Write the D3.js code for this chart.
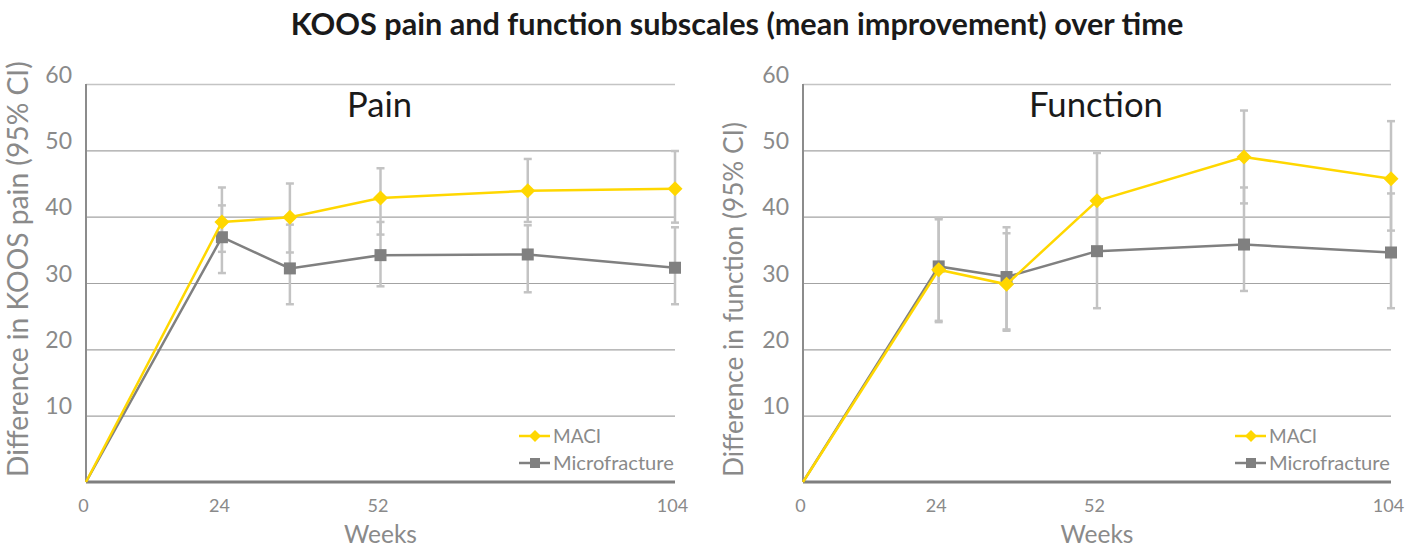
<!DOCTYPE html>
<html>
<head>
<meta charset="utf-8">
<script src="https://cdn.jsdelivr.net/npm/d3@7"></script>
<style>
  body { margin: 0; background: #fff; }
  svg text { font-family: Lato, "Noto Sans", sans-serif; }
</style>
</head>
<body>
<div id="chart"></div>
<script>
// weeks measured and tick labels
const weeks = [0, 24, 36, 52, 78, 104];
const xTicks = [0, 24, 52, 104];
const yTicks = [10, 20, 30, 40, 50, 60];
const seriesNames = ["MACI", "Microfracture"];

// Pain subscale: mean and 95% CI
const painMaci   = [0, 39.2, 39.9, 42.8, 43.9, 44.2];
const painMaciLo = [null, 34.7, 34.6, 37.3, 39.2, 39.1];
const painMaciHi = [null, 44.4, 45.0, 47.3, 48.7, 49.9];
const painMf     = [0, 36.9, 32.2, 34.2, 34.3, 32.3];
const painMfLo   = [null, 31.5, 26.8, 29.5, 28.6, 26.8];
const painMfHi   = [null, 41.7, 38.8, 39.2, 38.7, 38.4];

// Function subscale: mean and 95% CI
const funcMaci   = [0, 32.0, 29.8, 42.4, 49.0, 45.7];
const funcMaciLo = [null, 24.3, 22.8, 34.9, 42.0, 37.9];
const funcMaciHi = [null, 39.6, 37.5, 49.6, 56.0, 54.4];
const funcMf     = [0, 32.5, 30.9, 34.8, 35.8, 34.6];
const funcMfLo   = [null, 24.1, 23.0, 26.2, 28.8, 26.2];
const funcMfHi   = [null, 39.8, 38.4, 42.6, 44.4, 43.5];

const W = 1415, H = 547;
const yellow = "#FFD700", grey = "#808080", light = "#c3c3c3", tickGrey = "#8a8a8a";

const svg = d3.select("#chart").append("svg")
  .attr("width", W).attr("height", H);

// shrink or grow a text's font so it spans the given width
function fit(sel, width) {
  const fs = parseFloat(sel.attr("font-size"));
  const len = sel.node().getComputedTextLength();
  sel.attr("font-size", (fs * width / len).toFixed(2) + "px");
}

svg.append("text")
  .attr("x", 737).attr("y", 35)
  .attr("text-anchor", "middle")
  .attr("font-size", "26px").attr("font-weight", "bold")
  .attr("fill", "#1a1a1a")
  .text("KOOS pain and function subscales (mean improvement) over time")
  .call(fit, 893);

const panels = [
  { x0: 86, x1: 675, name: "Pain", nameW: 65, yTitle: "Difference in KOOS pain (95% CI)", yTitleW: 416, yTitleX: 28,
    maci: painMaci, maciLo: painMaciLo, maciHi: painMaciHi, mf: painMf, mfLo: painMfLo, mfHi: painMfHi },
  { x0: 803, x1: 1391, name: "Function", nameW: 134, yTitle: "Difference in function (95% CI)", yTitleW: 355, yTitleX: 743,
    maci: funcMaci, maciLo: funcMaciLo, maciHi: funcMaciHi, mf: funcMf, mfLo: funcMfLo, mfHi: funcMfHi }
];

const y = d3.scaleLinear().domain([0, 60]).range([482, 84]);

panels.forEach(p => {
  const x = d3.scaleLinear().domain([0, 104]).range([p.x0, p.x1]);
  const g = svg.append("g");

  // y axis with gridlines
  const ya = g.append("g")
    .attr("transform", `translate(${p.x0},0)`)
    .call(d3.axisLeft(y).tickValues(yTicks).tickSize(-(p.x1 - p.x0)).tickPadding(14));
  ya.select(".domain").remove();
  ya.selectAll(".tick line")
    .attr("stroke", d => d === 60 ? "#c4c4c4" : "#a3a3a3")
    .attr("stroke-width", d => d === 60 ? 1.5 : 1.2);
  ya.selectAll(".tick text")
    .attr("dy", "-2px")
    .attr("fill", tickGrey)
    .attr("font-size", "23px")
    .attr("font-family", "Lato, 'Noto Sans', sans-serif");

  // x axis labels
  const xa = g.append("g")
    .attr("transform", "translate(0,482)")
    .call(d3.axisBottom(x).tickValues(xTicks).tickSize(0));
  xa.select(".domain").remove();
  xa.selectAll(".tick text")
    .attr("y", 30).attr("dy", 0)
    .attr("dx", "-3px")
    .attr("fill", tickGrey)
    .attr("font-size", "18px")
    .attr("font-family", "Lato, 'Noto Sans', sans-serif");

  // axis lines
  g.append("line")
    .attr("x1", p.x0).attr("x2", p.x0).attr("y1", y(60)).attr("y2", y(0))
    .attr("stroke", "#8c8c8c").attr("stroke-width", 2);
  g.append("line")
    .attr("x1", p.x0).attr("x2", p.x1).attr("y1", y(0)).attr("y2", y(0))
    .attr("stroke", "#7f7f7f").attr("stroke-width", 3);

  g.append("text")
    .attr("x", (p.x0 + p.x1) / 2).attr("y", 543)
    .attr("text-anchor", "middle").attr("fill", tickGrey)
    .attr("font-size", "24px")
    .text("Weeks")
    .call(fit, 73);

  g.append("text")
    .attr("transform", `translate(${p.yTitleX},477) rotate(-90)`)
    .attr("text-anchor", "start").attr("fill", tickGrey)
    .attr("font-size", "22px")
    .text(p.yTitle)
    .call(fit, p.yTitleW);

  g.append("text")
    .attr("x", (p.x0 + p.x1) / 2 - 1).attr("y", 117)
    .attr("text-anchor", "middle").attr("fill", "#1a1a1a")
    .attr("font-size", "32px")
    .text(p.name)
    .call(fit, p.nameW);

  // error bars
  const bars = [];
  weeks.forEach((w, i) => {
    if (p.maciLo[i] != null) bars.push({ w, lo: p.maciLo[i], hi: p.maciHi[i] });
    if (p.mfLo[i] != null) bars.push({ w, lo: p.mfLo[i], hi: p.mfHi[i] });
  });
  const eb = g.append("g").attr("stroke", light).attr("stroke-width", 2.5);
  bars.forEach(b => {
    eb.append("line").attr("x1", x(b.w)).attr("x2", x(b.w)).attr("y1", y(b.lo)).attr("y2", y(b.hi));
    eb.append("line").attr("x1", x(b.w) - 4).attr("x2", x(b.w) + 4).attr("y1", y(b.lo)).attr("y2", y(b.lo));
    eb.append("line").attr("x1", x(b.w) - 4).attr("x2", x(b.w) + 4).attr("y1", y(b.hi)).attr("y2", y(b.hi));
  });

  const line = d3.line().x((d, i) => x(weeks[i])).y(d => y(d));

  // microfracture
  g.append("path").datum(p.mf)
    .attr("d", line).attr("fill", "none")
    .attr("stroke", grey).attr("stroke-width", 2.5);
  g.selectAll(null).data(p.mf.slice(1)).enter().append("rect")
    .attr("x", (d, i) => x(weeks[i + 1]) - 6).attr("y", d => y(d) - 6)
    .attr("width", 12).attr("height", 12).attr("fill", grey);

  // MACI
  g.append("path").datum(p.maci)
    .attr("d", line).attr("fill", "none")
    .attr("stroke", yellow).attr("stroke-width", 2.5);
  const diamond = "M0,-7.5L7.5,0L0,7.5L-7.5,0Z";
  g.selectAll(null).data(p.maci.slice(1)).enter().append("path")
    .attr("transform", (d, i) => `translate(${x(weeks[i + 1])},${y(d)})`)
    .attr("d", diamond).attr("fill", yellow);

  // legend
  const lx = p.x1 - 156;
  [0, 1].forEach(k => {
    const ly = 436 + k * 27;
    const c = k === 0 ? yellow : grey;
    g.append("line").attr("x1", lx).attr("x2", lx + 31).attr("y1", ly).attr("y2", ly)
      .attr("stroke", c).attr("stroke-width", 2.5);
    if (k === 0) {
      g.append("path").attr("transform", `translate(${lx + 16},${ly})`)
        .attr("d", "M0,-6L6,0L0,6L-6,0Z").attr("fill", c);
    } else {
      g.append("rect").attr("x", lx + 11).attr("y", ly - 5).attr("width", 10).attr("height", 10).attr("fill", c);
    }
    const t = g.append("text")
      .attr("x", lx + 34).attr("y", ly + 7)
      .attr("fill", tickGrey).attr("font-size", "19px")
      .text(seriesNames[k]);
    if (k === 1) t.call(fit, 121);
  });
});
</script>
</body>
</html>
